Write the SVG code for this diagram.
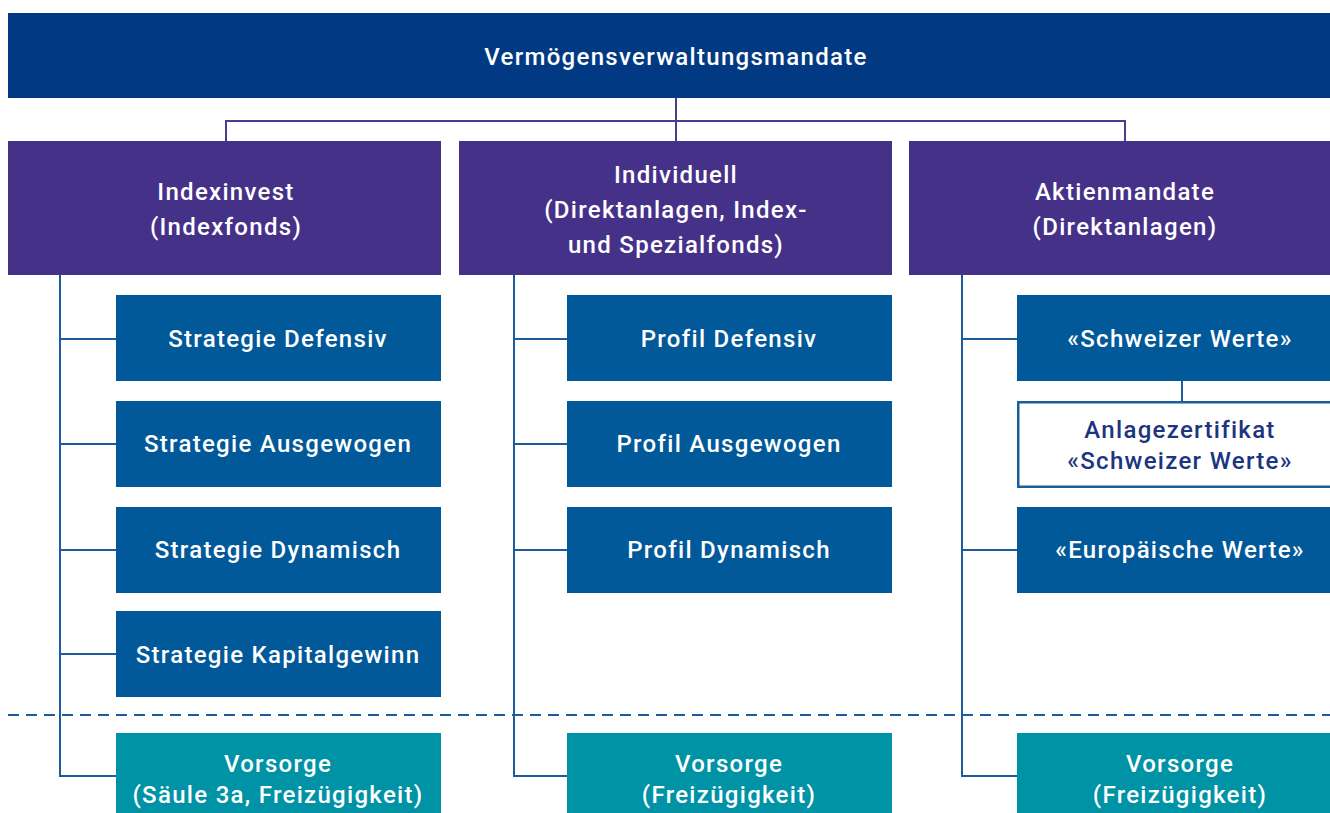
<svg xmlns="http://www.w3.org/2000/svg" width="1330" height="813" viewBox="0 0 1330 813">
<style>
  .top { fill: #013a82; }
  .cat { fill: #463189; }
  .prod { fill: #01599a; }
  .vor { fill: #0093a6; }
  .cert { fill: #ffffff; stroke: #1b5e9e; stroke-width: 2.5; }
  text { font-family: "Roboto", "Liberation Sans", sans-serif; font-weight: 500; fill: #ffffff; text-anchor: middle; dominant-baseline: central; font-size: 24px; letter-spacing: 1.3px; }
  .dark { fill: #1b3580; }
  .lp { fill: none; stroke: #4b3c8e; stroke-width: 2; }
  .lb { fill: none; stroke: #1c5c9c; stroke-width: 2; }
  .dash { fill: none; stroke: #1c5c9c; stroke-width: 2; stroke-dasharray: 11 7; }
</style>
<rect width="1330" height="813" fill="#ffffff"/>
<g id="connectors">
  <path class="lp" d="M676 98 V141 M226 141 V121 H1125 V141"/>
  <path class="lb" d="M60 275 V776 H116 M60 339 H116 M60 444 H116 M60 550 H116 M60 654 H116"/>
  <path class="lb" d="M514 275 V776 H567 M514 339 H567 M514 444 H567 M514 550 H567"/>
  <path class="lb" d="M962 275 V776 H1017 M962 339 H1017 M962 550 H1017 M1182 381 V402"/>
  <path class="dash" d="M8 715 H1330"/>
</g>
<g id="n-top"><rect class="top" x="8" y="13" width="1336" height="85"/><text x="676" y="57">Vermögensverwaltungsmandate</text></g>
<g id="n-indexinvest"><rect class="cat" x="8" y="141" width="433" height="134"/><text x="226" y="192">Indexinvest</text><text x="226" y="227">(Indexfonds)</text></g>
<g id="n-individuell"><rect class="cat" x="459" y="141" width="433" height="134"/><text x="676" y="175">Individuell</text><text x="676" y="210">(Direktanlagen, Index-</text><text x="676" y="245">und Spezialfonds)</text></g>
<g id="n-aktien"><rect class="cat" x="909" y="141" width="434" height="134"/><text x="1125" y="192">Aktienmandate</text><text x="1125" y="227">(Direktanlagen)</text></g>
<g id="n-s-def"><rect class="prod" x="116" y="295" width="325" height="86"/><text x="278" y="339">Strategie Defensiv</text></g>
<g id="n-s-aus"><rect class="prod" x="116" y="401" width="325" height="86"/><text x="278" y="444">Strategie Ausgewogen</text></g>
<g id="n-s-dyn"><rect class="prod" x="116" y="507" width="325" height="86"/><text x="278" y="550">Strategie Dynamisch</text></g>
<g id="n-s-kap"><rect class="prod" x="116" y="611" width="325" height="86"/><text x="278" y="655">Strategie Kapitalgewinn</text></g>
<g id="n-p-def"><rect class="prod" x="567" y="295" width="325" height="86"/><text x="729" y="339">Profil Defensiv</text></g>
<g id="n-p-aus"><rect class="prod" x="567" y="401" width="325" height="86"/><text x="729" y="444">Profil Ausgewogen</text></g>
<g id="n-p-dyn"><rect class="prod" x="567" y="507" width="325" height="86"/><text x="729" y="550">Profil Dynamisch</text></g>
<g id="n-schweiz"><rect class="prod" x="1017" y="295" width="326" height="86"/><text x="1180" y="339">«Schweizer Werte»</text></g>
<g id="n-zert"><rect class="cert" x="1018.25" y="402.25" width="330" height="84.5"/><text class="dark" x="1180" y="430">Anlagezertifikat</text><text class="dark" x="1180" y="461">«Schweizer Werte»</text></g>
<g id="n-europa"><rect class="prod" x="1017" y="507" width="326" height="86"/><text x="1180" y="550">«Europäische Werte»</text></g>
<g id="n-v1"><rect class="vor" x="116" y="733" width="325" height="90"/><text x="278" y="764">Vorsorge</text><text x="278" y="795">(Säule 3a, Freizügigkeit)</text></g>
<g id="n-v2"><rect class="vor" x="567" y="733" width="325" height="90"/><text x="729" y="764">Vorsorge</text><text x="729" y="795">(Freizügigkeit)</text></g>
<g id="n-v3"><rect class="vor" x="1017" y="733" width="326" height="90"/><text x="1180" y="764">Vorsorge</text><text x="1180" y="795">(Freizügigkeit)</text></g>
</svg>
